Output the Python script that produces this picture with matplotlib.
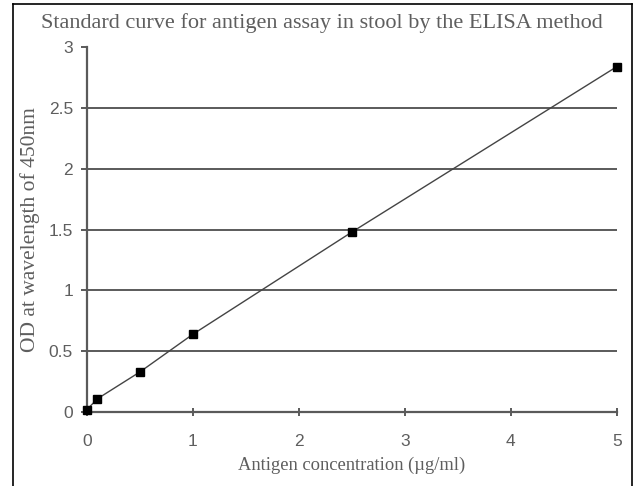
import matplotlib.pyplot as plt
from matplotlib.lines import Line2D

# 标准曲线数据
concentration = [0, 0.1, 0.5, 1, 2.5, 5]
od_450 = [0.02, 0.11, 0.33, 0.64, 1.48, 2.84]
x_ticks = [0, 1, 2, 3, 4, 5]
y_ticks = [0, 0.5, 1, 1.5, 2, 2.5, 3]
y_tick_labels = ['0', '0.5', '1', '1.5', '2', '2.5', '3']
grid_levels = [0.5, 1, 1.5, 2, 2.5]

axis_grey = '#5a5a5a'
text_grey = '#5e5e5e'

fig = plt.figure(figsize=(6.34, 4.86), dpi=100)
ax = fig.add_axes([0.137, 0.152, 0.836, 0.751])

for lvl in grid_levels:
    ax.axhline(lvl, color=axis_grey, linewidth=1.4, zorder=1)

ax.plot(concentration, od_450, color='#444444', linewidth=1.0, zorder=2)
ax.plot(concentration, od_450, linestyle='none', marker='s', markersize=6,
        color='black', zorder=3, clip_on=False)

ax.set_xlim(0, 5)
ax.set_ylim(0, 3)
ax.set_xticks(x_ticks)
ax.set_yticks(y_ticks)
ax.set_yticklabels(y_tick_labels)

for side in ['top', 'right']:
    ax.spines[side].set_visible(False)
for side in ['left', 'bottom']:
    ax.spines[side].set_color(axis_grey)
    ax.spines[side].set_linewidth(1.6)

ax.tick_params(axis='y', direction='out', length=4, width=1.4, color=axis_grey,
               labelcolor=text_grey, labelsize=12.5, pad=6)
ax.tick_params(axis='x', direction='inout', length=6, width=1.4, color=axis_grey,
               labelcolor=text_grey, labelsize=12.5, pad=13)
for lbl in ax.get_xticklabels() + ax.get_yticklabels():
    lbl.set_family('Liberation Sans')

serif = 'Liberation Serif'
fig.text(0.508, 0.952, 'Standard curve for antigen assay in stool by the ELISA method',
         ha='center', va='center', fontsize=16, family=serif, color=text_grey)
ax.set_xlabel('Antigen concentration (µg/ml)', fontsize=13.3, family=serif,
              color=text_grey, labelpad=5)
ax.set_ylabel('OD at wavelength of 450nm', fontsize=15.5, family=serif,
              color=text_grey, labelpad=6)

# 外框
frame_kw = dict(color='black', linewidth=1.2, transform=fig.transFigure)
fig.add_artist(Line2D([13 / 634, 13 / 634], [0, 1 - 4 / 486], **frame_kw))
fig.add_artist(Line2D([13 / 634, 632 / 634], [1 - 4 / 486, 1 - 4 / 486], **frame_kw))
fig.add_artist(Line2D([632 / 634, 632 / 634], [0, 1 - 4 / 486], **frame_kw))

fig.savefig('out.png', dpi=100)
